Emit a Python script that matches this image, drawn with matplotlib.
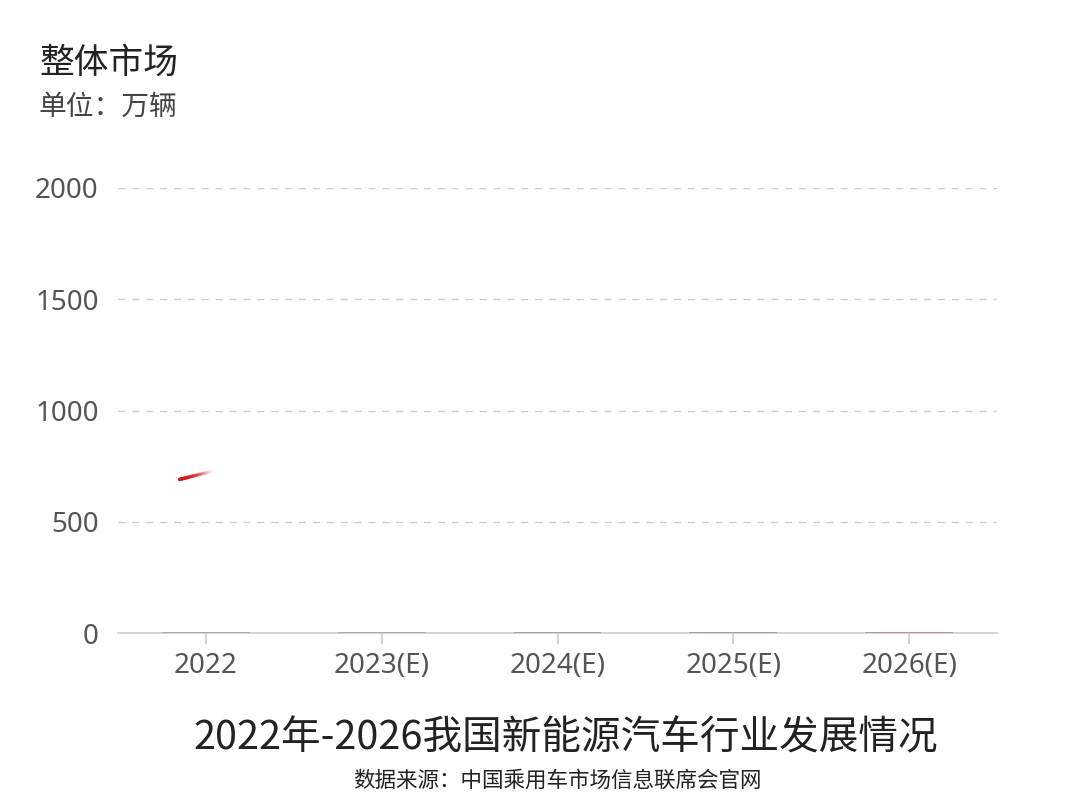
import numpy as np
import matplotlib
matplotlib.use('Agg')
import matplotlib.pyplot as plt
from matplotlib.collections import LineCollection

# chart captured mid-animation: bars are just starting to grow, line only partly drawn
years = ['2022', '2023(E)', '2024(E)', '2025(E)', '2026(E)']
bar_values = [3, 3, 3, 3, 3]
bar_colors = ['#a9a9a9', '#b0aaaa', '#ad9fa3', '#b09a9e', '#b39a9e']
line_x = [-0.15, 0.05]
line_y = [690, 730]
y_ticks = [0, 500, 1000, 1500, 2000]

cjk = ['Noto Sans CJK SC', 'DejaVu Sans']
num = ['Noto Sans', 'DejaVu Sans']

fig = plt.figure(figsize=(10.79, 8.08), dpi=100)
ax = fig.add_axes([118/1079, 1-633/808, (997-118)/1079, (633-188)/808])

x = np.arange(len(years))
ax.bar(x, bar_values, width=0.5, color=bar_colors, zorder=3)

# fading line segment
n = 30
xs = np.linspace(line_x[0], line_x[1], n + 1)
ys = np.interp(xs, line_x, line_y)
segs = [[(xs[i], ys[i]), (xs[i+1], ys[i+1])] for i in range(n)]
alphas = np.linspace(1, 0, n) ** 1.6
cols = [(0.86, 0.08, 0.1, a) for a in alphas]
lc = LineCollection(segs, colors=cols, linewidths=2.5, capstyle='round', zorder=4)
ax.add_collection(lc)

ax.set_xlim(-0.5, len(years) - 0.5)
ax.set_ylim(0, 2000)
ax.set_yticks(y_ticks)
ax.set_xticks(x)
ax.set_xticklabels(years)
ax.grid(axis='y', color='#cccccc', linestyle=(0, (5, 5)), linewidth=1, zorder=0)

for s in ['top', 'right', 'left']:
    ax.spines[s].set_visible(False)
ax.spines['bottom'].set_color('#cccccc')
ax.spines['bottom'].set_linewidth(1.2)
ax.tick_params(axis='y', length=0, pad=14, labelsize=20, labelcolor='#555555')
ax.tick_params(axis='x', length=8, width=1.2, color='#cccccc', pad=6,
               labelsize=20, labelcolor='#555555')
for lab in ax.get_xticklabels() + ax.get_yticklabels():
    lab.set_family(num)

fig.text(40/1079, 1-63/808, '整体市场', fontsize=25, color='#222222',
         family=cjk, va='center', ha='left')
fig.text(38/1079, 1-107/808, '单位：万辆', fontsize=20, color='#444444',
         family=cjk, va='center', ha='left')
fig.text(566/1079, 1-738/808, '2022年-2026我国新能源汽车行业发展情况', fontsize=28.5,
         color='#222222', family=cjk, va='center', ha='center')
fig.text(557/1079, 1-781/808, '数据来源：中国乘用车市场信息联席会官网', fontsize=15.5,
         color='#222222', family=cjk, va='center', ha='center')

plt.savefig('out.png', dpi=100)
